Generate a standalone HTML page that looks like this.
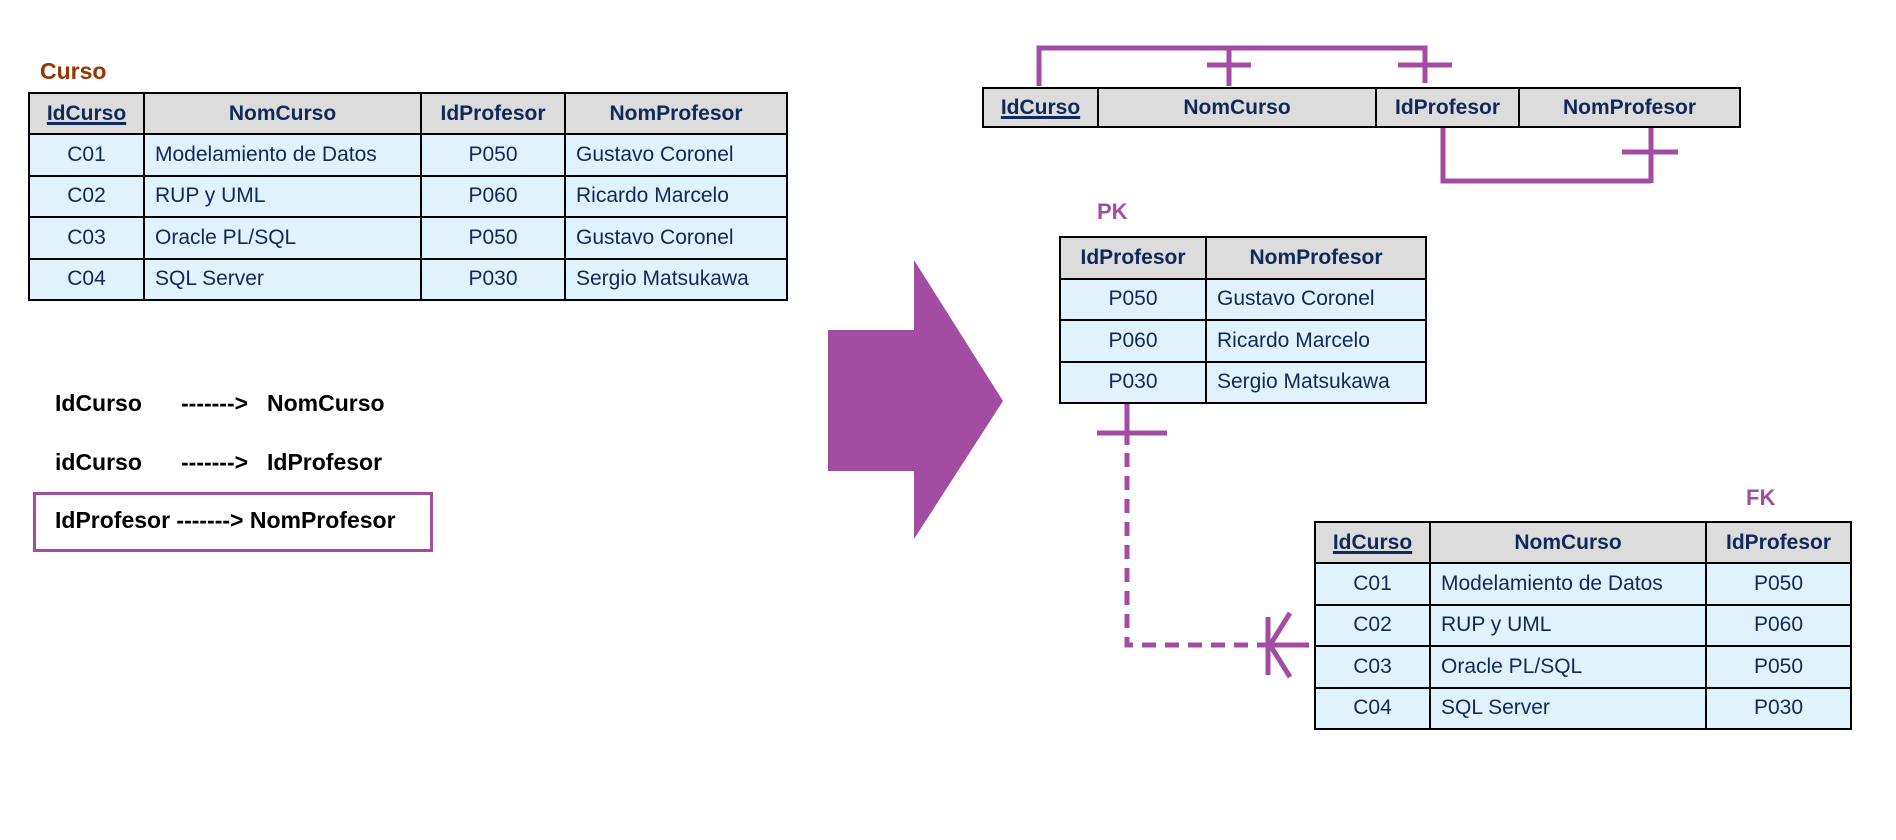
<!DOCTYPE html>
<html><head><meta charset="utf-8"><style>
body{margin:0;width:1896px;height:840px;background:#fff;position:relative;overflow:hidden;font-family:"Liberation Sans",Arial,sans-serif}
.t{position:absolute;border-collapse:collapse;color:#10285a;font-size:21px;table-layout:fixed}
.t td{border:2px solid #000;padding:0 10px;white-space:nowrap;background:#e0f2fc;overflow:hidden}
.t tr.h td{background:#dcdcdc;font-weight:bold;text-align:center}
.c{text-align:center}
u{text-decoration-thickness:3px}
.lab{position:absolute;font-weight:bold}
.dep{position:absolute;font-weight:bold;font-size:23px;color:#000;white-space:pre}
</style></head><body>
<div class="lab" style="left:40px;top:58px;font-size:23px;color:#993300">Curso</div>
<table class="t" style="left:28px;top:92px;width:758px;height:209px">
<colgroup><col style="width:115px"><col style="width:277px"><col style="width:144px"><col style="width:222px"></colgroup>
<tr class="h"><td><u>IdCurso</u></td><td>NomCurso</td><td>IdProfesor</td><td>NomProfesor</td></tr>
<tr><td class="c">C01</td><td>Modelamiento de Datos</td><td class="c">P050</td><td>Gustavo Coronel</td></tr>
<tr><td class="c">C02</td><td>RUP y UML</td><td class="c">P060</td><td>Ricardo Marcelo</td></tr>
<tr><td class="c">C03</td><td>Oracle PL/SQL</td><td class="c">P050</td><td>Gustavo Coronel</td></tr>
<tr><td class="c">C04</td><td>SQL Server</td><td class="c">P030</td><td>Sergio Matsukawa</td></tr>
</table>
<div class="dep" style="left:55px;top:390px">IdCurso</div>
<div class="dep" style="left:181px;top:390px">-------&gt;</div>
<div class="dep" style="left:267px;top:390px">NomCurso</div>
<div class="dep" style="left:55px;top:449px">idCurso</div>
<div class="dep" style="left:181px;top:449px">-------&gt;</div>
<div class="dep" style="left:267px;top:449px">IdProfesor</div>
<div style="position:absolute;left:33px;top:492px;width:394px;height:54px;border:3px solid #a24ca2"></div>
<div class="dep" style="left:55px;top:507px">IdProfesor -------&gt; NomProfesor</div>

<table class="t" style="left:982px;top:87px;width:757px;height:41px">
<colgroup><col style="width:115px"><col style="width:278px"><col style="width:143px"><col style="width:221px"></colgroup>
<tr class="h"><td><u>IdCurso</u></td><td>NomCurso</td><td>IdProfesor</td><td>NomProfesor</td></tr>
</table>

<div class="lab" style="left:1097px;top:199px;font-size:22px;color:#a24ca2">PK</div>
<table class="t" style="left:1059px;top:236px;width:366px;height:168px">
<colgroup><col style="width:146px"><col style="width:220px"></colgroup>
<tr class="h"><td>IdProfesor</td><td>NomProfesor</td></tr>
<tr><td class="c">P050</td><td>Gustavo Coronel</td></tr>
<tr><td class="c">P060</td><td>Ricardo Marcelo</td></tr>
<tr><td class="c">P030</td><td>Sergio Matsukawa</td></tr>
</table>

<div class="lab" style="left:1746px;top:485px;font-size:22px;color:#a24ca2">FK</div>
<table class="t" style="left:1314px;top:521px;width:536px;height:209px">
<colgroup><col style="width:115px"><col style="width:276px"><col style="width:145px"></colgroup>
<tr class="h"><td><u>IdCurso</u></td><td>NomCurso</td><td>IdProfesor</td></tr>
<tr><td class="c">C01</td><td>Modelamiento de Datos</td><td class="c">P050</td></tr>
<tr><td class="c">C02</td><td>RUP y UML</td><td class="c">P060</td></tr>
<tr><td class="c">C03</td><td>Oracle PL/SQL</td><td class="c">P050</td></tr>
<tr><td class="c">C04</td><td>SQL Server</td><td class="c">P030</td></tr>
</table>

<svg width="1896" height="840" style="position:absolute;left:0;top:0" fill="none" stroke="#a24ca2" stroke-width="5">
<polygon points="828,330 914,330 914,260 1003,401 914,539 914,471 828,471" fill="#a24ca2" stroke="none"/>
<path d="M1039,86 V48 H1425 V83 M1229,48 V86 M1207,65 H1251 M1398,65 H1452"/>
<path d="M1443,128 V181 H1651 M1651,128 V183 M1622,152 H1678"/>
<path d="M1127,404 V445 M1097,433 H1167"/>
<path d="M1127,453 V645 H1268" stroke-dasharray="14,9"/>
<path d="M1268,645 H1309 M1268,617 V675 M1270,645 L1290,613 M1270,645 L1290,677"/>
</svg>
</body></html>
